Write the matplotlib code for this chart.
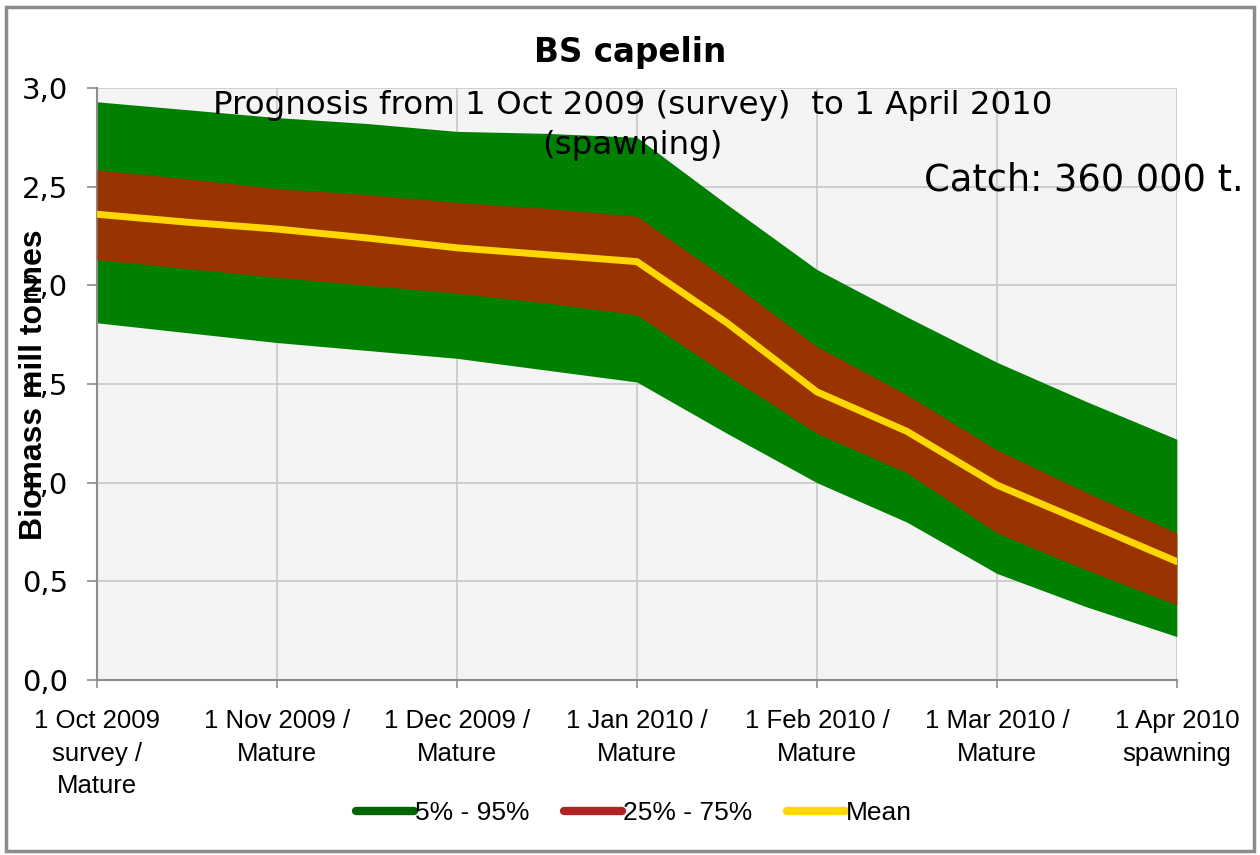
import matplotlib.pyplot as plt
from matplotlib.lines import Line2D
from matplotlib.patches import Rectangle

# half-month steps, 1 Oct 2009 -> 1 Apr 2010 (category positions 0..6)
months = [0, 0.5, 1, 1.5, 2, 2.5, 3, 3.5, 4, 4.5, 5, 5.5, 6]
p95 = [2.93, 2.89, 2.85, 2.82, 2.78, 2.77, 2.75, 2.41, 2.08, 1.84, 1.61, 1.41, 1.22]
p75 = [2.585, 2.54, 2.49, 2.46, 2.42, 2.39, 2.35, 2.03, 1.69, 1.445, 1.166, 0.95, 0.745]
mean = [2.36, 2.32, 2.285, 2.24, 2.19, 2.155, 2.12, 1.81, 1.46, 1.26, 0.988, 0.795, 0.60]
p25 = [2.13, 2.085, 2.04, 2.00, 1.96, 1.91, 1.85, 1.545, 1.25, 1.05, 0.745, 0.557, 0.38]
p05 = [1.81, 1.76, 1.71, 1.67, 1.63, 1.57, 1.51, 1.25, 1.00, 0.80, 0.54, 0.37, 0.22]

tick_labels = [
    "1 Oct 2009\nsurvey /\nMature",
    "1 Nov 2009 /\nMature",
    "1 Dec 2009 /\nMature",
    "1 Jan 2010 /\nMature",
    "1 Feb 2010 /\nMature",
    "1 Mar 2010 /\nMature",
    "1 Apr 2010\nspawning",
]
yticks = [0.0, 0.5, 1.0, 1.5, 2.0, 2.5, 3.0]

narrow = ["Liberation Sans", "DejaVu Sans"]

fig = plt.figure(figsize=(12.6, 8.55), dpi=100)
ax = fig.add_axes([0.077, 0.2047, 0.857, 0.6924])
ax.set_facecolor("#f4f4f4")

ax.fill_between(months, p05, p95, color="#008000", linewidth=0, zorder=2)
ax.fill_between(months, p25, p75, color="#993300", linewidth=0, zorder=3)
ax.plot(months, mean, color="#ffd700", linewidth=5, solid_capstyle="round", zorder=4)

ax.set_xlim(0, 6)
ax.set_ylim(0, 3)
ax.set_xticks(range(7))
ax.set_xticklabels(tick_labels, family=narrow, fontsize=18.5, linespacing=1.45)
ax.set_yticks(yticks)
ax.set_yticklabels([f"{v:.1f}".replace(".", ",") for v in yticks], fontsize=21)
ax.grid(True, color="#c8c8c8", linewidth=1.2, zorder=1)
ax.set_axisbelow(True)
for s in ["top", "right"]:
    ax.spines[s].set_visible(False)
for s in ["left", "bottom"]:
    ax.spines[s].set_color("#8c8c8c")
    ax.spines[s].set_linewidth(1.5)
ax.tick_params(axis="y", length=7, width=1.2, color="#8c8c8c", pad=14)
ax.tick_params(axis="x", length=6, width=1.2, color="#8c8c8c", pad=15)

fig.text(0.5, 0.939, "BS capelin", ha="center", va="center",
         fontsize=23.5, fontweight="bold")
fig.text(0.502, 0.853, "Prognosis from 1 Oct 2009 (survey)  to 1 April 2010\n(spawning)",
         ha="center", va="center", fontsize=23.4, linespacing=1.4)
fig.text(0.86, 0.789, "Catch: 360 000 t.", ha="center", va="center", fontsize=26.5)
fig.text(0.027, 0.55, "Biomass mill tonnes", ha="center", va="center",
         rotation=90, fontsize=23, fontweight="bold", family=narrow)

handles = [
    Line2D([], [], color="#006400", linewidth=6, solid_capstyle="round"),
    Line2D([], [], color="#b22222", linewidth=6, solid_capstyle="round"),
    Line2D([], [], color="#ffd700", linewidth=6, solid_capstyle="round"),
]
fig.legend(handles, ["5% - 95%", "25% - 75%", "Mean"], loc="center",
           bbox_to_anchor=(0.503, 0.049), ncol=3, frameon=False,
           prop={"family": narrow, "size": 19}, handlelength=2.2,
           handletextpad=0.05, columnspacing=1.3)

fig.patches.append(Rectangle((0.005, 0.005), 0.99, 0.987, transform=fig.transFigure,
                             fill=False, edgecolor="#8c8c8c", linewidth=2.5))

fig.savefig("out.png", dpi=100)
